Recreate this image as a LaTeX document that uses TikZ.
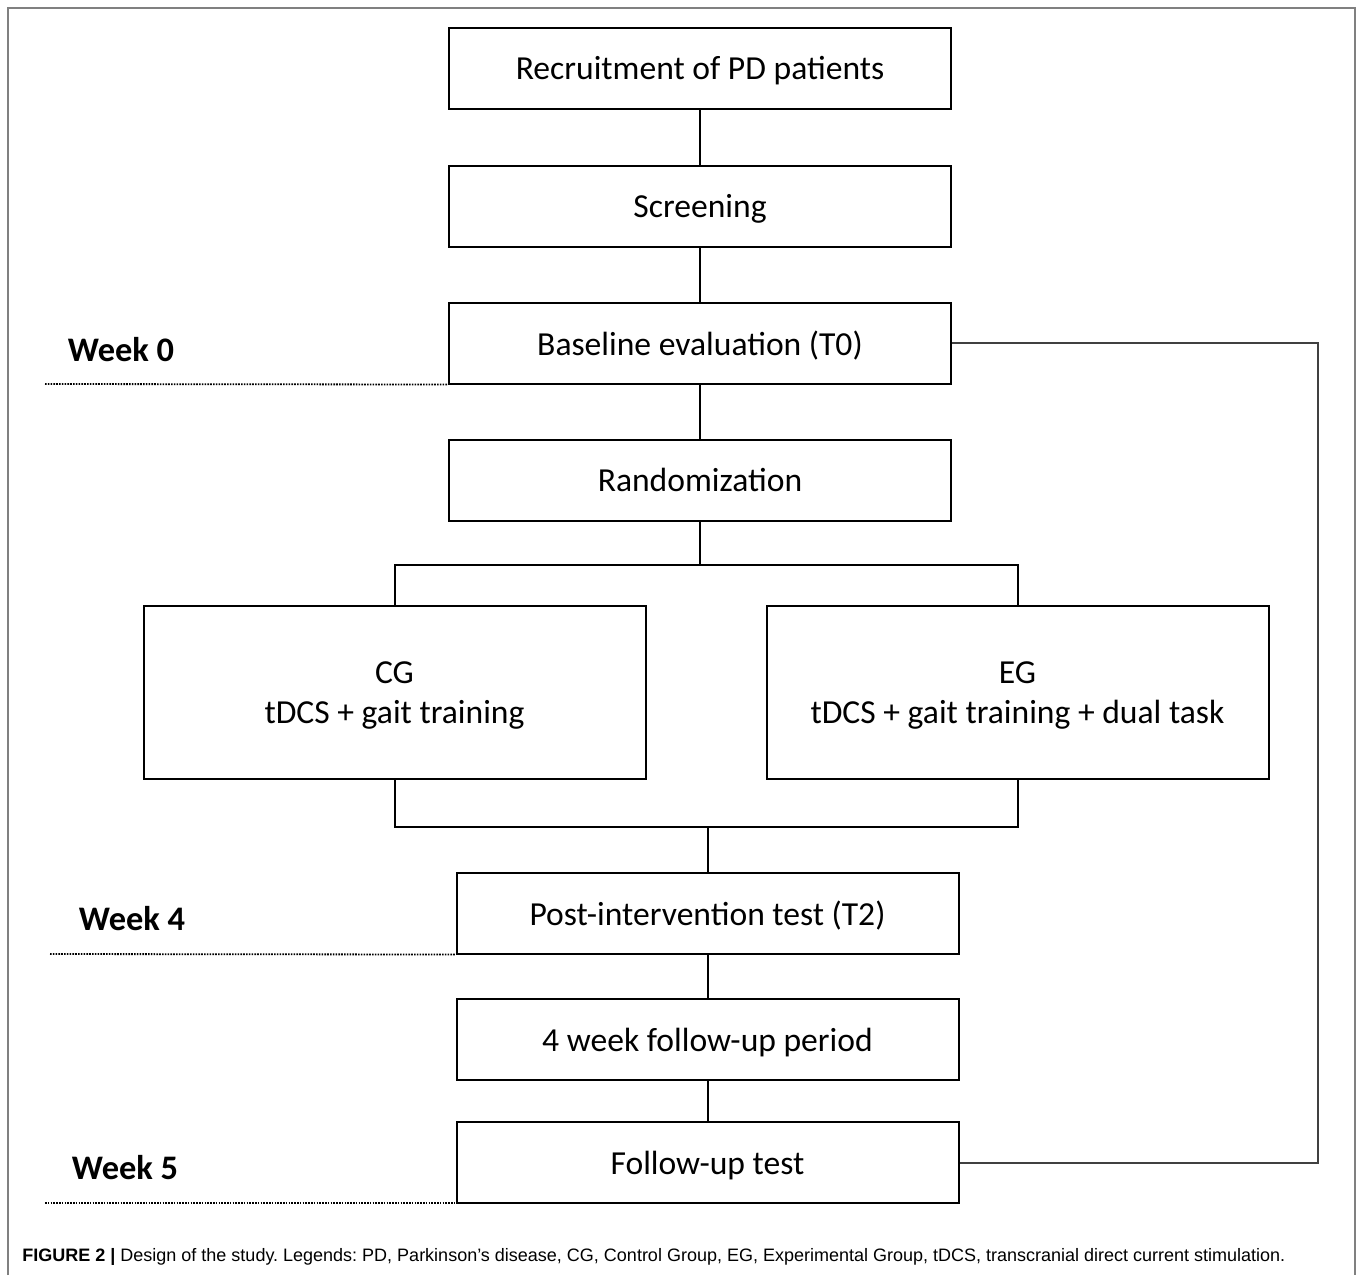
\documentclass[tikz,border=0pt]{standalone}
\usepackage{fontspec}
\setmainfont{Carlito}
\newfontfamily\capfont{Liberation Sans}
\usetikzlibrary{positioning}
\frenchspacing

\tikzset{
    stage/.style={draw, line width=1pt, inner sep=0pt, minimum width=251pt, minimum height=40.5pt,
        text depth=0pt, font=\fontsize{16.8}{20}\selectfont},
    group/.style={stage, minimum height=86.5pt, align=center},
    week/.style={font=\fontsize{17.2}{20}\selectfont\bfseries},
    link/.style={line width=1pt},
    weekline/.style={line width=0.9pt, dotted, dash pattern=on 0.8pt off 0.6pt},
}

\begin{document}
\begin{tikzpicture}[x=0.5pt, y=-0.5pt]
    \useasboundingbox (0,0) rectangle (1358,1275);
    % outer frame
    \draw[gray, line width=0.8pt] (8,1275) -- (8,8) -- (1355,8) -- (1355,1275);

    % main column
    \node[stage] (recruit) at (700,68) {Recruitment of PD patients};
    \node[stage] (screen) at (700,206) {Screening};
    \node[stage] (base) at (700,343) {Baseline evaluation (T0)};
    \node[stage] (rand) at (700,480) {Randomization};
    \node[group] (cg) at (394.5,692.5) {CG\\tDCS + gait training};
    \node[group] (eg) at (1017.5,692.5) {EG\\tDCS + gait training + dual task};
    \node[stage] (post) at (707.5,913) {Post-intervention test (T2)};
    \node[stage] (period) at (707.5,1039.5) {4 week follow-up period};
    \node[stage] (follow) at (707.5,1162.5) {Follow-up test};

    % weeks
    \node[week] (wk0) at (121,350) {Week 0};
    \node[week] (wk4) at (132,919) {Week 4};
    \node[week] (wk5) at (125,1168) {Week 5};
    \coordinate (w0) at (45,384);
    \coordinate (w4) at (50,954);
    \coordinate (w5) at (45,1203);
    \coordinate (w5e) at (706,1203);
    \draw[weekline] (w0) -- (base.south west);
    \draw[weekline] (w4) -- (post.south west);
    \draw[weekline] (w5) -- (w5e);

    % connectors
    \coordinate (split) at (700,565);
    \coordinate (join) at (707.5,827);
    \coordinate (loop) at (1318,343);
    \draw[link] (recruit) -- (screen);
    \draw[link] (screen) -- (base);
    \draw[link] (base) -- (rand);
    \draw[link] (rand) -- (split);
    \draw[link] (cg) -- (cg |- split) -| (eg);
    \draw[link] (cg) -- (cg |- join) -| (eg);
    \draw[link] (join) -- (post);
    \draw[link] (post) -- (period);
    \draw[link] (period) -- (follow);
    \draw[link, black!75] (base) -- (loop) |- (follow);

    % caption
    \node[anchor=west, inner sep=0pt, font=\capfont\fontsize{9}{11}\selectfont] (caption) at (22,1257)
        {\textbf{FIGURE 2 |} Design of the study. Legends: PD, Parkinson’s disease, CG, Control Group, EG, Experimental Group, tDCS, transcranial direct current stimulation.};
\end{tikzpicture}
\end{document}
